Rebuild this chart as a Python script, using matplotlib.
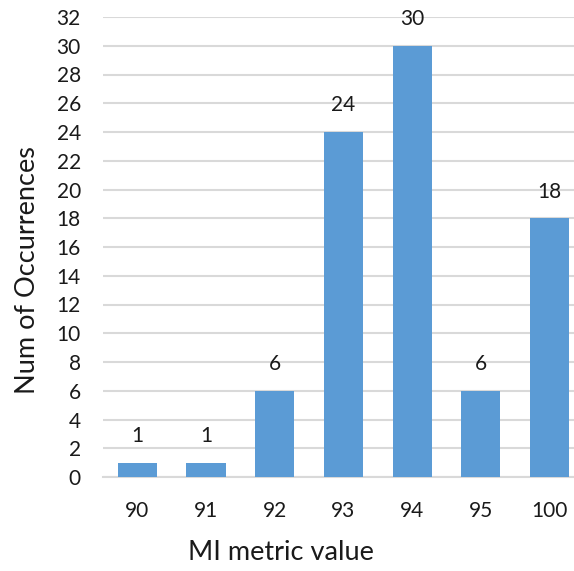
import numpy as np
import matplotlib.pyplot as plt

categories = ["90", "91", "92", "93", "94", "95", "100"]
counts = [1, 1, 6, 24, 30, 6, 18]
y_ticks = list(range(0, 33, 2))

plt.rcParams['font.family'] = ['Lato', 'DejaVu Sans']

W, H = 574, 571
fig = plt.figure(figsize=(W / 100, H / 100), dpi=100)
ax = fig.add_axes([103 / W, 1 - 477 / H, (W - 103) / W, (477 - 17) / H])

x = np.arange(len(categories))
ax.bar(x, counts, width=0.57, color="#5B9BD5", zorder=3)

# value labels above each bar
for xi, c in zip(x, counts):
    ax.text(xi, c + 1.15, str(c), ha="center", va="bottom", fontsize=15, color="#1a1a1a")

ax.set_xlim(-0.5, 6.357)
ax.set_ylim(0, 32)
ax.set_yticks(y_ticks)
ax.set_xticks(x)
ax.set_xticklabels(categories)
ax.grid(axis="y", color="#D9D9D9", linewidth=1.5, zorder=0)
ax.tick_params(axis="both", length=0, labelsize=15, colors="#1a1a1a")
ax.tick_params(axis="x", pad=17)
ax.tick_params(axis="y", pad=16)

for side in ["top", "right", "left"]:
    ax.spines[side].set_visible(False)
ax.spines["bottom"].set_color("#D9D9D9")
ax.spines["bottom"].set_linewidth(1.5)

fig.text(28 / W, 1 - 270 / H, "Num of Occurrences", rotation=90, ha="center", va="center", fontsize=19.5, color="#1a1a1a")
fig.text(281 / W, 1 - 553 / H, "MI metric value", ha="center", va="center", fontsize=19.5, color="#1a1a1a")

fig.savefig("out.png", dpi=100)
